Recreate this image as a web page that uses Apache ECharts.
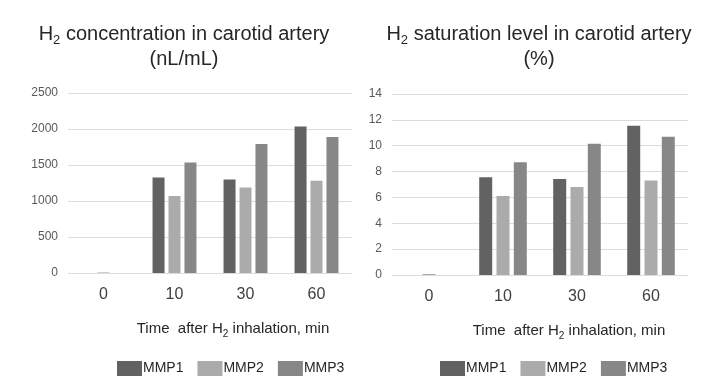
<!DOCTYPE html>
<html>
<head>
<meta charset="utf-8">
<script src="https://cdn.jsdelivr.net/npm/echarts@6/dist/echarts.min.js"></script>
<style>
  html, body { margin: 0; padding: 0; background: #fff; }
  #chart { width: 710px; height: 388px; }
</style>
</head>
<body>
<div id="chart"></div>
<script>
const categories = ['0', '10', '30', '60'];
const seriesNames = ['MMP1', 'MMP2', 'MMP3'];
const concMMP1 = [0, 1327, 1299, 2036];
const concMMP2 = [8, 1071, 1188, 1280];
const concMMP3 = [0, 1536, 1790, 1888];
const satMMP1 = [0, 7.57, 7.42, 11.55];
const satMMP2 = [0.08, 6.12, 6.8, 7.31];
const satMMP3 = [0, 8.73, 10.15, 10.7];
const concTicks = { min: 0, max: 2500, interval: 500 };
const satTicks = { min: 0, max: 14, interval: 2 };

const colors = ['#626262', '#ababab', '#878787'];
const FONT = 'Liberation Sans, Arial, sans-serif';

const titleRich = {
  n: { fontSize: 20, fontWeight: 'normal', fontFamily: FONT, color: '#262626', lineHeight: 25 },
  s: { fontSize: 13, fontWeight: 'normal', fontFamily: FONT, color: '#262626', lineHeight: 11, verticalAlign: 'bottom' }
};
const nameRich = {
  a: { fontSize: 15, fontFamily: FONT, color: '#262626', lineHeight: 20 },
  b: { fontSize: 10, fontFamily: FONT, color: '#262626', lineHeight: 10, verticalAlign: 'bottom' }
};

function xAxis(gridIndex, padLeft) {
  return {
    type: 'category', gridIndex: gridIndex, data: categories,
    axisLine: { show: false }, axisTick: { show: false },
    axisLabel: { fontSize: 16, fontFamily: FONT, color: '#404040', margin: 14 },
    name: '{a|Time  after H}{b|2}{a| inhalation, min}',
    nameLocation: 'middle', nameGap: 46,
    nameTextStyle: { rich: nameRich, padding: [0, 0, 0, padLeft] }
  };
}
function yAxis(gridIndex, t) {
  return {
    type: 'value', gridIndex: gridIndex, min: t.min, max: t.max, interval: t.interval,
    axisLine: { show: false }, axisTick: { show: false },
    axisLabel: { fontSize: 12, fontFamily: FONT, color: '#595959', margin: 10,
      formatter: function (v) { return String(v); } },
    splitLine: { lineStyle: { color: '#dcdcdc', width: 1 } }
  };
}
function bars(idx, data, w) {
  return {
    type: 'bar', name: seriesNames[idx % 3], data: data,
    xAxisIndex: idx < 3 ? 0 : 1, yAxisIndex: idx < 3 ? 0 : 1,
    barWidth: w, barGap: '33%',
    itemStyle: { color: colors[idx % 3] },
    emphasis: { disabled: true }
  };
}
function legend(left) {
  return {
    data: seriesNames, left: left, top: 361, padding: 0, orient: 'horizontal',
    itemWidth: 25, itemHeight: 15, itemGap: 14,
    icon: 'rect', selectedMode: false,
    textStyle: { fontSize: 14, fontFamily: FONT, color: '#262626', padding: [0, 0, 0, -4] }
  };
}

const chart = echarts.init(document.getElementById('chart'), null, { renderer: 'canvas' });
chart.setOption({
  animation: false,
  backgroundColor: '#ffffff',
  color: colors,
  title: [
    { text: '{n|H}{s|2}{n| concentration in carotid artery}\n{n|(nL/mL)}', left: 184, top: 22, padding: 0,
      textAlign: 'center', textStyle: { rich: titleRich, align: 'center', fontWeight: 'normal' } },
    { text: '{n|H}{s|2}{n| saturation level in carotid artery}\n{n|(%)}', left: 539, top: 22, padding: 0,
      textAlign: 'center', textStyle: { rich: titleRich, align: 'center', fontWeight: 'normal' } }
  ],
  legend: [legend(117), legend(440)],
  grid: [
    { left: 68, right: 358, top: 93, bottom: 115 },
    { left: 392, right: 22, top: 94, bottom: 113 }
  ],
  xAxis: [xAxis(0, 46), xAxis(1, 58)],
  yAxis: [yAxis(0, concTicks), yAxis(1, satTicks)],
  series: [
    bars(0, concMMP1, 12), bars(1, concMMP2, 12), bars(2, concMMP3, 12),
    bars(3, satMMP1, 13), bars(4, satMMP2, 13), bars(5, satMMP3, 13)
  ]
});
</script>
</body>
</html>
